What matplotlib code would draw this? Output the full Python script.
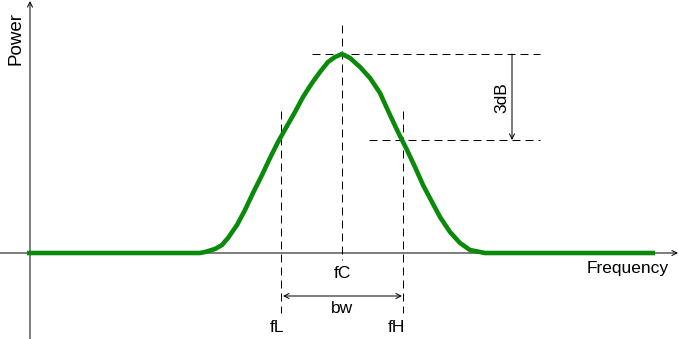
import matplotlib
matplotlib.use("Agg")
import matplotlib.pyplot as plt

plt.rcParams['font.family'] = ['Liberation Sans', 'DejaVu Sans']

# curve (frequency, power)
freq = [-3, 0, 100, 170, 175, 185, 192, 198, 207, 215, 223, 232, 240, 248,
        257, 265, 273, 282, 290, 298, 305, 312,
        320, 330, 340, 350, 360, 368, 377, 385, 393, 402, 410, 420, 430,
        440, 450, 455, 550, 625]
power = [0, 0, 0, 0, 1, 4, 8, 15, 28, 43, 60, 78, 95, 111,
         127, 141, 156, 170, 181, 191, 196, 199,
         195, 186, 175, 160, 138, 121, 103, 86, 68, 51, 36, 21, 10,
         3, 1, 0, 0, 0]

f_c = 312
f_l = 251
f_h = 373
p_peak = 199
p_3db = 113

fig = plt.figure(figsize=(6.79, 3.39), dpi=100)
ax = fig.add_axes([0, 0, 1, 1])
ax.set_xlim(-30, 649)
ax.set_ylim(-86, 253)
ax.axis('off')

lw = 0.72
dash = (0, (8, 5))
arrow = dict(arrowstyle='->', lw=lw, color='black', shrinkA=0, shrinkB=0,
             mutation_scale=9)

# axes with arrows
ax.annotate('', xy=(0, 252), xytext=(0, -86), arrowprops=arrow)
ax.annotate('', xy=(648, 0), xytext=(-30, 0), arrowprops=arrow)

# the curve
ax.plot(freq, power, color='#0a8a0a', lw=3.3, solid_capstyle='butt',
        solid_joinstyle='round', zorder=3)

# dashed guides
ax.plot([f_c, f_c], [228, -7], ls=dash, color='black', lw=lw)
ax.plot([282, 510], [p_peak, p_peak], ls=dash, color='black', lw=lw)
ax.plot([339, 510], [p_3db, p_3db], ls=dash, color='black', lw=lw)
ax.plot([f_l, f_l], [142, -60], ls=dash, color='black', lw=lw)
ax.plot([f_h, f_h], [142, -60], ls=dash, color='black', lw=lw)

# 3dB arrow
ax.annotate('', xy=(482, p_3db), xytext=(482, p_peak), arrowprops=arrow)
# bandwidth arrow
ax.annotate('', xy=(f_l + 2, -43), xytext=(f_h - 1, -43),
            arrowprops=dict(arrow, arrowstyle='<->'))

fs = 12.5
ax.text(-13.5, 214.5, 'Power', rotation=90, ha='center', va='center', fontsize=13.5)
ax.text(472, 155, '3dB', rotation=90, ha='center', va='center', fontsize=fs)
ax.text(597.5, -20, 'Frequency', ha='center', va='baseline', fontsize=fs)
ax.text(f_c, -25, 'fC', ha='center', va='baseline', fontsize=fs)
ax.text(f_c, -60, 'bw', ha='center', va='baseline', fontsize=fs)
ax.text(f_l - 4, -79, 'fL', ha='center', va='baseline', fontsize=fs)
ax.text(f_h - 7, -79, 'fH', ha='center', va='baseline', fontsize=fs)

fig.savefig('out.png', dpi=100)
